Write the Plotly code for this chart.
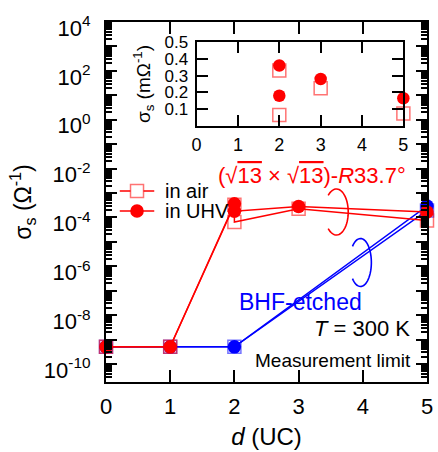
import numpy as np
import plotly.graph_objects as go

# ---------------- data ----------------
LIMIT = 5e-10                      # measurement limit (Ω^-1)

# (√13 × √13)-R33.7° surface, individual samples (inset values in mΩ^-1)
lim_d = [0, 1]
inset_d = [2, 2, 3, 5]
inset_air = [0.33, 0.065, 0.225, 0.075]
inset_uhv = [0.36, 0.18, 0.28, 0.165]

# BHF-etched surface (Ω^-1)
bhf_d = [0, 1, 2, 5]
bhf_air = [LIMIT, LIMIT, LIMIT, 1.9e-4]
bhf_uhv = [LIMIT, LIMIT, LIMIT, 2.9e-4]

x_ticks = [0, 1, 2, 3, 4, 5]
y_label_decades = list(range(-10, 5, 2))
y_odd_decades = list(range(-9, 4, 2))
inset_yticks = [0.1, 0.2, 0.3, 0.4, 0.5]

# ---------------- style ----------------
RED = "#ff0000"
PINK = "rgba(255,0,0,0.55)"
BLUE = "#0000ff"
LBLUE = "rgba(0,0,255,0.55)"
FONT = "Liberation Sans, Arial, sans-serif"

W, H = 438, 452
ML, MR, MT, MB = 106, 6, 22, 70
PW, PH = W - ML - MR, H - MT - MB
YRANGE = [-10.74, 4]


def px(x):
    return (x - ML) / PW


def py(y):
    return (H - MB - y) / PH


mark_d = lim_d + inset_d
air_y = [LIMIT] * len(lim_d) + [v * 1e-3 for v in inset_air]
uhv_y = [LIMIT] * len(lim_d) + [v * 1e-3 for v in inset_uhv]

fig = go.Figure()

# BHF-etched
fig.add_trace(go.Scatter(x=bhf_d, y=bhf_air, mode="lines", line=dict(color=BLUE, width=1.5), showlegend=False))
fig.add_trace(go.Scatter(x=bhf_d, y=bhf_uhv, mode="lines", line=dict(color=BLUE, width=1.5), showlegend=False))
fig.add_trace(go.Scatter(x=bhf_d, y=bhf_air, mode="markers", cliponaxis=False,
                         marker=dict(symbol="square-open", size=13, color=LBLUE, line=dict(width=1.5)), showlegend=False))
fig.add_trace(go.Scatter(x=bhf_d, y=bhf_uhv, mode="markers", cliponaxis=False,
                         marker=dict(symbol="circle", size=13.5, color=BLUE, line=dict(width=0)), showlegend=False))

# √13 surface
fig.add_trace(go.Scatter(x=mark_d, y=air_y, mode="lines", line=dict(color=RED, width=1.5), showlegend=False))
fig.add_trace(go.Scatter(x=mark_d, y=uhv_y, mode="lines", line=dict(color=RED, width=1.5), showlegend=False))
fig.add_trace(go.Scatter(x=mark_d, y=air_y, mode="markers", cliponaxis=False,
                         marker=dict(symbol="square-open", size=13, color=PINK, line=dict(width=1.5)), showlegend=False))
fig.add_trace(go.Scatter(x=mark_d, y=uhv_y, mode="markers", cliponaxis=False,
                         marker=dict(symbol="circle", size=13.5, color=RED, line=dict(width=0)), showlegend=False))

# inset
fig.add_trace(go.Scatter(x=inset_d, y=inset_air, mode="markers", xaxis="x2", yaxis="y2", cliponaxis=False,
                         marker=dict(symbol="square-open", size=13, color=PINK, line=dict(width=1.5)), showlegend=False))
fig.add_trace(go.Scatter(x=inset_d, y=inset_uhv, mode="markers", xaxis="x2", yaxis="y2", cliponaxis=False,
                         marker=dict(symbol="circle", size=12.5, color=RED, line=dict(width=0)), showlegend=False))

minor_vals = [m * 10.0 ** k for k in range(-11, 4) for m in range(2, 10)]

axis_common = dict(showline=True, linewidth=2, linecolor="black", mirror="ticks",
                   ticks="inside", tickwidth=2, tickcolor="black", showgrid=False, zeroline=False)

fig.update_layout(
    width=W, height=H,
    margin=dict(l=ML, r=MR, t=MT, b=MB),
    paper_bgcolor="white", plot_bgcolor="white",
    font=dict(family=FONT, color="black"),
    showlegend=False,
    xaxis=dict(**axis_common, range=[0, 5], tickvals=x_ticks, ticklen=12,
               tickfont=dict(size=22), ticklabelstandoff=4,
               title=dict(text="<i>d</i> (UC)", font=dict(size=24), standoff=10)),
    yaxis=dict(**axis_common, type="log", range=YRANGE,
               tickvals=[10.0 ** k for k in y_label_decades],
               ticktext=["10<sup>%d</sup>" % k for k in y_label_decades],
               ticklen=11, tickfont=dict(size=22), ticklabelstandoff=9, ticklabelshift=6,
               minor=dict(tickvals=minor_vals, ticks="inside", ticklen=6, tickwidth=2, tickcolor="black"),
               title=dict(text="σ<sub>s</sub> (Ω<sup>-1</sup>)", font=dict(size=23), standoff=6)),
    yaxis3=dict(type="log", range=YRANGE, overlaying="y", anchor="x", side="left",
                tickvals=[10.0 ** k for k in y_odd_decades], showticklabels=False,
                ticks="inside", ticklen=11, tickwidth=2, tickcolor="black", mirror="ticks",
                showline=False, showgrid=False, zeroline=False),
    xaxis2=dict(**axis_common, domain=[px(198), px(408)], anchor="y2", range=[0, 5], tickvals=x_ticks,
                ticklen=11, tickfont=dict(size=18), ticklabelstandoff=1),
    yaxis2=dict(**axis_common, domain=[py(126), py(42)], anchor="x2", range=[0, 0.5],
                tickvals=inset_yticks, ticktext=["%.1f" % v for v in inset_yticks],
                ticklen=11, tickfont=dict(size=17), ticklabelstandoff=3,
                title=dict(text="σ<sub>s</sub> (mΩ<sup>-1</sup>)", font=dict(size=19), standoff=9)),
)
# keep the overlay axis alive with an invisible trace
fig.add_trace(go.Scatter(x=[0], y=[10.0 ** YRANGE[1]], yaxis="y3", mode="markers",
                         marker=dict(opacity=0), hoverinfo="skip", showlegend=False))

shapes = []
# measurement limit dashed line
shapes.append(dict(type="line", xref="x", yref="y", x0=2.1, x1=5, y0=np.log10(LIMIT), y1=np.log10(LIMIT),
                   line=dict(color="black", width=1.2, dash="4px,3px")))


def arc(cx, cy, rx, ry, a0, a1, n=48):
    pts = []
    for t in np.linspace(np.radians(a0), np.radians(a1), n):
        pts.append((px(cx + rx * np.cos(t)), py(cy - ry * np.sin(t))))
    return "M " + " L ".join("%.5f,%.5f" % p for p in pts)


shapes.append(dict(type="path", xref="paper", yref="paper", path=arc(340, 212, 12, 23, 134, -134),
                   line=dict(color=RED, width=1.6)))
shapes.append(dict(type="path", xref="paper", yref="paper", path=arc(364.5, 262.5, 11, 24, 138, -138),
                   line=dict(color=BLUE, width=1.6)))

# manual legend
for yy, sym in [(191, "square"), (211, "circle")]:
    shapes.append(dict(type="line", xref="paper", yref="paper", x0=px(120), x1=px(155), y0=py(yy), y1=py(yy),
                       line=dict(color=RED, width=1.5)))
    if sym == "square":
        shapes.append(dict(type="rect", xref="paper", yref="paper", xsizemode="pixel", ysizemode="pixel",
                           xanchor=px(137.5), yanchor=py(yy), x0=-6.5, x1=6.5, y0=-6.5, y1=6.5,
                           fillcolor="white", line=dict(color=PINK, width=1.5)))
    else:
        shapes.append(dict(type="circle", xref="paper", yref="paper", xsizemode="pixel", ysizemode="pixel",
                           xanchor=px(137.5), yanchor=py(yy), x0=-6.8, x1=6.8, y0=-6.8, y1=6.8,
                           fillcolor=RED, line=dict(color=RED, width=0)))
fig.update_layout(shapes=shapes)

ann = [
    dict(text="in air", x=px(164), y=py(191), xanchor="left", font=dict(size=20)),
    dict(text="in UHV", x=px(164), y=py(211), xanchor="left", font=dict(size=20)),
    dict(text="(√<span style='text-decoration:overline'>13</span> × √<span style='text-decoration:overline'>13</span>)-<i>R</i>33.7°",
         x=px(315), y=py(175), xanchor="center", font=dict(size=22, color=RED)),
    dict(text="BHF-etched", x=px(304), y=py(302), xanchor="center", font=dict(size=23, color=BLUE)),
    dict(text="<i>T</i> = 300 K", x=px(417), y=py(328), xanchor="right", font=dict(size=22)),
    dict(text="Measurement limit", x=px(418), y=py(360), xanchor="right", font=dict(size=19)),
]
for a in ann:
    a.update(xref="paper", yref="paper", yanchor="middle", showarrow=False)
fig.update_layout(annotations=ann)

fig.write_html("out.html")
